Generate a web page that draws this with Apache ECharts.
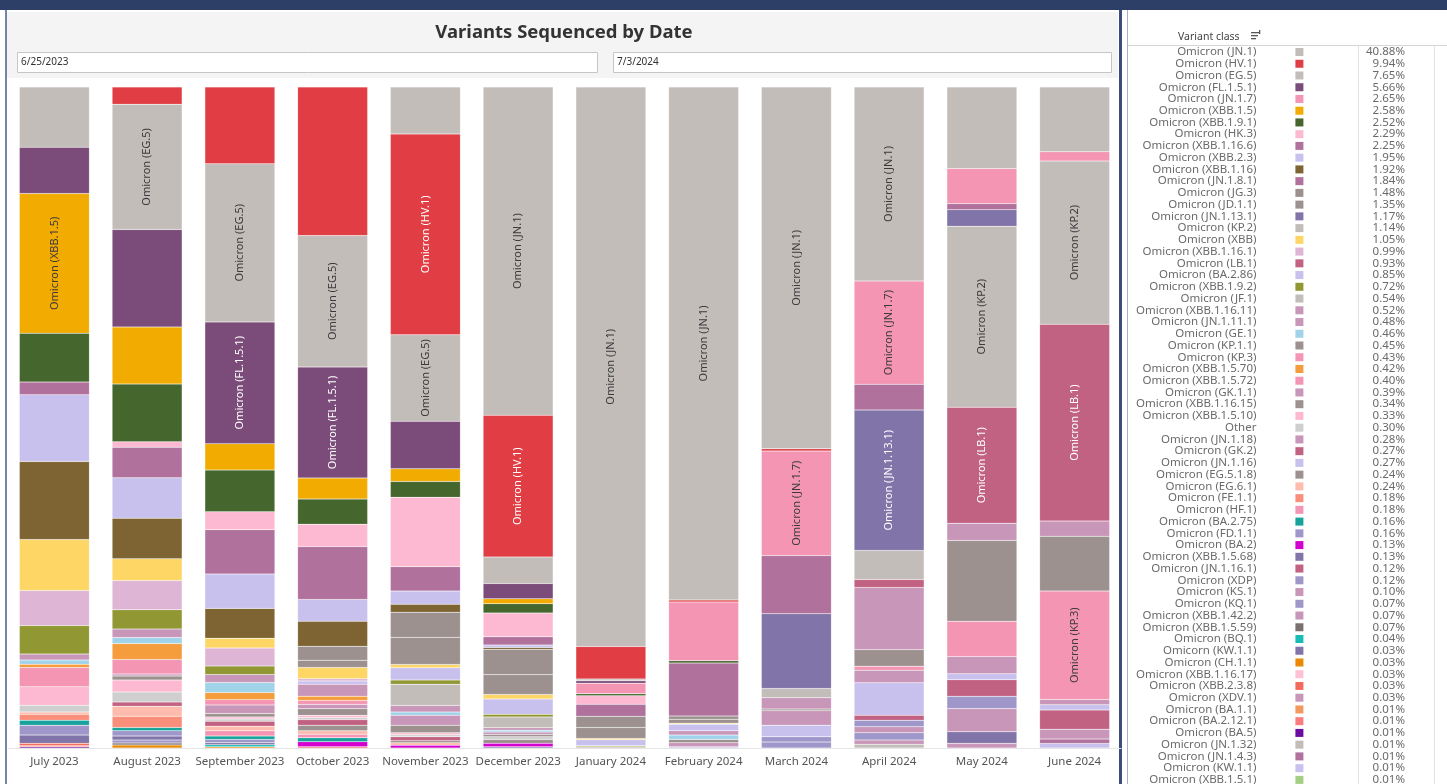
<!DOCTYPE html>
<html lang="en">
  <head>
    <meta charset="UTF-8" />
    <meta name="viewport" content="width=device-width, initial-scale=1.0" />
    <title>Variants Sequenced by Date</title>
    <script src="https://cdn.jsdelivr.net/npm/echarts@6/dist/echarts.min.js"></script>
    <style>
      html, body { margin: 0; padding: 0; background: #fff; }
      #main { width: 1447px; height: 784px; }
    </style>
  </head>
  <body>
    <div id="main"></div>
    <script>
      var FONT = "Noto Sans";

      var months = ["July 2023", "August 2023", "September 2023", "October 2023", "November 2023", "December 2023",
        "January 2024", "February 2024", "March 2024", "April 2024", "May 2024", "June 2024"];

      // legend order = stack order (top to bottom), share of all sequences
      var variants = ["Omicron (JN.1)", "Omicron (HV.1)", "Omicron (EG.5)", "Omicron (FL.1.5.1)", "Omicron (JN.1.7)",
        "Omicron (XBB.1.5)", "Omicron (XBB.1.9.1)", "Omicron (HK.3)", "Omicron (XBB.1.16.6)", "Omicron (XBB.2.3)",
        "Omicron (XBB.1.16)", "Omicron (JN.1.8.1)", "Omicron (JG.3)", "Omicron (JD.1.1)", "Omicron (JN.1.13.1)",
        "Omicron (KP.2)", "Omicron (XBB)", "Omicron (XBB.1.16.1)", "Omicron (LB.1)", "Omicron (BA.2.86)",
        "Omicron (XBB.1.9.2)", "Omicron (JF.1)", "Omicron (XBB.1.16.11)", "Omicron (JN.1.11.1)", "Omicron (GE.1)",
        "Omicron (KP.1.1)", "Omicron (KP.3)", "Omicron (XBB.1.5.70)", "Omicron (XBB.1.5.72)", "Omicron (GK.1.1)",
        "Omicron (XBB.1.16.15)", "Omicron (XBB.1.5.10)", "Other", "Omicron (JN.1.18)", "Omicron (GK.2)",
        "Omicron (JN.1.16)", "Omicron (EG.5.1.8)", "Omicron (EG.6.1)", "Omicron (FE.1.1)", "Omicron (HF.1)",
        "Omicron (BA.2.75)", "Omicron (FD.1.1)", "Omicron (BA.2)", "Omicron (XBB.1.5.68)", "Omicron (JN.1.16.1)",
        "Omicron (XDP)", "Omicron (KS.1)", "Omicron (KQ.1)", "Omicron (XBB.1.42.2)", "Omicron (XBB.1.5.59)",
        "Omicron (BQ.1)", "Omicorn (KW.1.1)", "Omicron (CH.1.1)", "Omicron (XBB.1.16.17)", "Omicron (XBB.2.3.8)",
        "Omicron (XDV.1)", "Omicron (BA.1.1)", "Omicron (BA.2.12.1)", "Omicron (BA.5)", "Omicron (JN.1.32)",
        "Omicron (JN.1.4.3)", "Omicron (KW.1.1)", "Omicron (XBB.1.5.1)"];

      var shares = [40.88, 9.94, 7.65, 5.66, 2.65, 2.58, 2.52, 2.29, 2.25, 1.95,
        1.92, 1.84, 1.48, 1.35, 1.17, 1.14, 1.05, 0.99, 0.93, 0.85,
        0.72, 0.54, 0.52, 0.48, 0.46, 0.45, 0.43, 0.42, 0.40, 0.39,
        0.34, 0.33, 0.30, 0.28, 0.27, 0.27, 0.24, 0.24, 0.18, 0.18,
        0.16, 0.16, 0.13, 0.13, 0.12, 0.12, 0.10, 0.07, 0.07, 0.07,
        0.04, 0.03, 0.03, 0.03, 0.03, 0.03, 0.01, 0.01, 0.01, 0.01,
        0.01, 0.01, 0.01];

      var palette = ["#c3bdba", "#e03e44", "#c3bdba", "#7b4c79", "#f395b3",
        "#f2ab00", "#45672e", "#fdb9d1", "#b0719d", "#c8c1ee",
        "#7e6433", "#b0719d", "#9c918e", "#9c918e", "#8174a8",
        "#c3bdba", "#fdd666", "#deb5d4", "#c26282", "#c8c1ee",
        "#919733", "#c3bdba", "#c896b9", "#c896b9", "#a0d3ea",
        "#9c918e", "#f395b3", "#f59d3d", "#f395b3", "#c896b9",
        "#9c918e", "#fdb9d1", "#cfcfcf", "#c896b9", "#c26282",
        "#c8c1ee", "#9c918e", "#fdbcae", "#f98e7a", "#f395b3",
        "#17a39b", "#9f96c9", "#d400cf", "#8174a8", "#c26282",
        "#9f96c9", "#c896b9", "#9f96c9", "#c896b9", "#7b706e",
        "#17bdb5", "#8174a8", "#e98a00", "#fdc1d6", "#f46b5c",
        "#c896b9", "#f2995e", "#fb7c7c", "#6b0ca0", "#c3bdba",
        "#b0719d", "#c8c1ee", "#a3cf82"];

      // percent of each month's sequences
      var jul2023 = [["Omicron (EG.5)", 9.1], ["Omicron (FL.1.5.1)", 7.0], ["Omicron (XBB.1.5)", 21.1],
        ["Omicron (XBB.1.9.1)", 7.4], ["Omicron (XBB.1.16.6)", 1.9], ["Omicron (XBB.2.3)", 10.1],
        ["Omicron (XBB.1.16)", 11.8], ["Omicron (XBB)", 7.7], ["Omicron (XBB.1.16.1)", 5.3],
        ["Omicron (XBB.1.9.2)", 4.3], ["Omicron (XBB.1.16.11)", 0.9], ["Omicron (GE.1)", 0.65],
        ["Omicron (XBB.1.5.70)", 0.5], ["Omicron (XBB.1.5.72)", 2.9], ["Omicron (XBB.1.5.10)", 2.8],
        ["Other", 1.0], ["Omicron (EG.6.1)", 0.35], ["Omicron (FE.1.1)", 0.9], ["Omicron (BA.2.75)", 0.75],
        ["Omicron (FD.1.1)", 1.5], ["Omicron (XBB.1.5.68)", 1.25], ["Omicron (XBB.2.3.8)", 0.35],
        ["Omicron (BA.2.12.1)", 0.15], ["Omicron (BA.5)", 0.2]];

      var aug2023 = [["Omicron (HV.1)", 2.6], ["Omicron (EG.5)", 18.9], ["Omicron (FL.1.5.1)", 14.7],
        ["Omicron (XBB.1.5)", 8.6], ["Omicron (XBB.1.9.1)", 8.7], ["Omicron (HK.3)", 0.85],
        ["Omicron (XBB.1.16.6)", 4.6], ["Omicron (XBB.2.3)", 6.1], ["Omicron (XBB.1.16)", 6.1],
        ["Omicron (XBB)", 3.3], ["Omicron (XBB.1.16.1)", 4.4], ["Omicron (XBB.1.9.2)", 2.9],
        ["Omicron (XBB.1.16.11)", 1.3], ["Omicron (GE.1)", 0.9], ["Omicron (XBB.1.5.70)", 2.4],
        ["Omicron (XBB.1.5.72)", 2.2], ["Omicron (GK.1.1)", 0.3], ["Omicron (XBB.1.16.15)", 0.6],
        ["Omicron (XBB.1.5.10)", 1.8], ["Other", 1.5], ["Omicron (GK.2)", 0.65], ["Omicron (EG.6.1)", 1.5],
        ["Omicron (FE.1.1)", 1.7], ["Omicron (BA.2.75)", 0.5], ["Omicron (FD.1.1)", 0.8],
        ["Omicron (XBB.1.5.68)", 0.6], ["Omicron (XDP)", 0.45], ["Omicron (XBB.1.5.59)", 0.3],
        ["Omicron (CH.1.1)", 0.45]];

      var sep2023 = [["Omicron (HV.1)", 11.6], ["Omicron (EG.5)", 23.9], ["Omicron (FL.1.5.1)", 18.4],
        ["Omicron (XBB.1.5)", 4.0], ["Omicron (XBB.1.9.1)", 6.3], ["Omicron (HK.3)", 2.7],
        ["Omicron (XBB.1.16.6)", 6.7], ["Omicron (XBB.2.3)", 5.2], ["Omicron (XBB.1.16)", 4.5],
        ["Omicron (XBB)", 1.5], ["Omicron (XBB.1.16.1)", 2.7], ["Omicron (XBB.1.9.2)", 1.3],
        ["Omicron (XBB.1.16.11)", 1.2], ["Omicron (GE.1)", 1.5], ["Omicron (XBB.1.5.70)", 1.1],
        ["Omicron (XBB.1.5.72)", 0.8], ["Omicron (GK.1.1)", 1.3], ["Omicron (XBB.1.16.15)", 0.5],
        ["Omicron (XBB.1.5.10)", 0.3], ["Other", 0.35], ["Omicron (GK.2)", 0.75], ["Omicron (EG.6.1)", 0.7],
        ["Omicron (HF.1)", 0.8], ["Omicron (BA.2.75)", 0.5], ["Omicron (FD.1.1)", 0.5],
        ["Omicron (XBB.1.5.68)", 0.3], ["Omicron (BQ.1)", 0.3], ["Omicron (CH.1.1)", 0.2]];

      var oct2023 = [["Omicron (HV.1)", 22.5], ["Omicron (EG.5)", 19.9], ["Omicron (FL.1.5.1)", 16.8],
        ["Omicron (XBB.1.5)", 3.2], ["Omicron (XBB.1.9.1)", 3.8], ["Omicron (HK.3)", 3.4],
        ["Omicron (XBB.1.16.6)", 8.0], ["Omicron (XBB.2.3)", 3.3], ["Omicron (XBB.1.16)", 3.8],
        ["Omicron (JG.3)", 2.1], ["Omicron (JD.1.1)", 1.1], ["Omicron (XBB)", 1.7],
        ["Omicron (XBB.1.16.1)", 0.35], ["Omicron (BA.2.86)", 0.5], ["Omicron (XBB.1.16.11)", 1.8],
        ["Omicron (XBB.1.5.70)", 0.65], ["Omicron (XBB.1.5.72)", 0.6], ["Omicron (GK.1.1)", 0.65],
        ["Omicron (XBB.1.16.15)", 1.0], ["Omicron (XBB.1.5.10)", 0.35], ["Other", 0.3],
        ["Omicron (GK.2)", 0.85], ["Omicron (EG.5.1.8)", 0.85], ["Omicron (EG.6.1)", 0.5],
        ["Omicron (HF.1)", 0.55], ["Omicron (BA.2.75)", 0.6], ["Omicron (BA.2)", 0.75],
        ["Omicron (XBB.2.3.8)", 0.2]];

      var nov2023 = [["Omicron (JN.1)", 7.1], ["Omicron (HV.1)", 30.4], ["Omicron (EG.5)", 13.1],
        ["Omicron (FL.1.5.1)", 7.2], ["Omicron (XBB.1.5)", 1.9], ["Omicron (XBB.1.9.1)", 2.4],
        ["Omicron (HK.3)", 10.5], ["Omicron (XBB.1.16.6)", 3.7], ["Omicron (XBB.2.3)", 2.0],
        ["Omicron (XBB.1.16)", 1.2], ["Omicron (JG.3)", 3.8], ["Omicron (JD.1.1)", 4.1],
        ["Omicron (XBB)", 0.5], ["Omicron (BA.2.86)", 1.85], ["Omicron (XBB.1.9.2)", 0.65],
        ["Omicron (JF.1)", 3.2], ["Omicron (XBB.1.16.11)", 1.0], ["Omicron (GE.1)", 0.5],
        ["Omicron (GK.1.1)", 1.5], ["Omicron (XBB.1.16.15)", 1.15], ["Omicron (XBB.1.5.10)", 0.3],
        ["Other", 0.3], ["Omicron (GK.2)", 0.6], ["Omicron (EG.5.1.8)", 0.3], ["Omicron (EG.6.1)", 0.4],
        ["Omicron (BA.2)", 0.4]];

      var dec2023 = [["Omicron (JN.1)", 49.6], ["Omicron (HV.1)", 21.4], ["Omicron (EG.5)", 4.0],
        ["Omicron (FL.1.5.1)", 2.3], ["Omicron (XBB.1.5)", 0.75], ["Omicron (XBB.1.9.1)", 1.4],
        ["Omicron (HK.3)", 3.6], ["Omicron (XBB.1.16.6)", 1.25], ["Omicron (XBB.2.3)", 0.35],
        ["Omicron (XBB.1.16)", 0.3], ["Omicron (JG.3)", 3.8], ["Omicron (JD.1.1)", 3.0],
        ["Omicron (XBB)", 0.7], ["Omicron (BA.2.86)", 2.3], ["Omicron (XBB.1.9.2)", 0.4],
        ["Omicron (JF.1)", 1.65], ["Omicron (XBB.1.16.11)", 0.35], ["Omicron (GE.1)", 0.3],
        ["Omicron (GK.1.1)", 0.35], ["Omicron (XBB.1.16.15)", 0.35], ["Other", 0.4],
        ["Omicron (EG.5.1.8)", 0.6], ["Omicron (BA.2)", 0.5], ["Omicron (XBB.1.5.68)", 0.2]];

      var jan2024 = [["Omicron (JN.1)", 84.6], ["Omicron (HV.1)", 4.9], ["Omicron (EG.5)", 0.3],
        ["Omicron (FL.1.5.1)", 0.35], ["Omicron (JN.1.7)", 1.6], ["Omicron (XBB.1.9.1)", 0.3],
        ["Omicron (HK.3)", 1.3], ["Omicron (JN.1.8.1)", 1.8], ["Omicron (JG.3)", 1.7],
        ["Omicron (JD.1.1)", 1.65], ["Omicron (XBB)", 0.2], ["Omicron (BA.2.86)", 0.9],
        ["Omicron (XBB.1.9.2)", 0.15], ["Omicron (JF.1)", 0.2]];

      var feb2024 = [["Omicron (JN.1)", 77.6], ["Omicron (HV.1)", 0.3], ["Omicron (JN.1.7)", 8.9],
        ["Omicron (XBB.1.9.1)", 0.35], ["Omicron (JN.1.8.1)", 8.0], ["Omicron (JG.3)", 0.5],
        ["Omicron (JD.1.1)", 0.6], ["Omicron (XBB)", 0.15], ["Omicron (BA.2.86)", 1.0],
        ["Omicron (JN.1.11.1)", 0.65], ["Omicron (GE.1)", 0.65], ["Omicron (KP.1.1)", 0.5],
        ["Omicron (JN.1.18)", 0.6], ["Omicron (JN.1.16)", 0.2]];

      var mar2024 = [["Omicron (JN.1)", 54.7], ["Omicron (HV.1)", 0.35], ["Omicron (JN.1.7)", 15.8],
        ["Omicron (JN.1.8.1)", 8.8], ["Omicron (JN.1.13.1)", 11.3], ["Omicron (KP.2)", 1.4],
        ["Omicron (JN.1.11.1)", 1.7], ["Omicron (KP.1.1)", 0.25], ["Omicron (JN.1.18)", 2.2],
        ["Omicron (JN.1.16)", 1.75], ["Omicron (XDP)", 0.8], ["Omicron (KQ.1)", 0.9]];

      var apr2024 = [["Omicron (JN.1)", 29.3], ["Omicron (JN.1.7)", 15.6], ["Omicron (JN.1.8.1)", 3.9],
        ["Omicron (JN.1.13.1)", 21.2], ["Omicron (KP.2)", 4.4], ["Omicron (LB.1)", 1.2],
        ["Omicron (JN.1.11.1)", 9.4], ["Omicron (KP.1.1)", 2.5], ["Omicron (KP.3)", 0.6],
        ["Omicron (JN.1.18)", 1.9], ["Omicron (JN.1.16)", 4.9], ["Omicron (JN.1.16.1)", 0.75],
        ["Omicron (XDP)", 1.0], ["Omicron (KS.1)", 0.9], ["Omicron (KQ.1)", 1.1],
        ["Omicron (XBB.1.42.2)", 0.65], ["Omicron (JN.1.32)", 0.55]];

      var may2024 = [["Omicron (JN.1)", 12.3], ["Omicron (JN.1.7)", 5.3], ["Omicron (JN.1.8.1)", 0.9],
        ["Omicron (JN.1.13.1)", 2.5], ["Omicron (KP.2)", 27.3], ["Omicron (LB.1)", 17.5],
        ["Omicron (JN.1.11.1)", 2.6], ["Omicron (KP.1.1)", 12.2], ["Omicron (KP.3)", 5.3],
        ["Omicron (JN.1.18)", 2.6], ["Omicron (JN.1.16)", 0.9], ["Omicron (JN.1.16.1)", 2.5],
        ["Omicron (XDP)", 1.85], ["Omicron (KS.1)", 3.5], ["Omicorn (KW.1.1)", 1.75],
        ["Omicron (XDV.1)", 0.7]];

      var jun2024 = [["Omicron (JN.1)", 9.8], ["Omicron (JN.1.7)", 1.4], ["Omicron (KP.2)", 24.7],
        ["Omicron (LB.1)", 29.8], ["Omicron (JN.1.11.1)", 2.3], ["Omicron (KP.1.1)", 8.3],
        ["Omicron (KP.3)", 16.4], ["Omicron (JN.1.18)", 0.8], ["Omicron (JN.1.16)", 0.8],
        ["Omicron (JN.1.16.1)", 2.9], ["Omicron (KS.1)", 1.5], ["Omicron (JN.1.4.3)", 0.65],
        ["Omicron (KW.1.1)", 0.7]];

      var monthData = [jul2023, aug2023, sep2023, oct2023, nov2023, dec2023,
        jan2024, feb2024, mar2024, apr2024, may2024, jun2024];

      // segments that carry a name label
      var labeled = [["July 2023", "Omicron (XBB.1.5)"], ["August 2023", "Omicron (EG.5)"],
        ["September 2023", "Omicron (EG.5)"], ["September 2023", "Omicron (FL.1.5.1)"],
        ["October 2023", "Omicron (EG.5)"], ["October 2023", "Omicron (FL.1.5.1)"],
        ["November 2023", "Omicron (HV.1)"], ["November 2023", "Omicron (EG.5)"],
        ["December 2023", "Omicron (JN.1)"], ["December 2023", "Omicron (HV.1)"],
        ["January 2024", "Omicron (JN.1)"], ["February 2024", "Omicron (JN.1)"],
        ["March 2024", "Omicron (JN.1)"], ["March 2024", "Omicron (JN.1.7)"],
        ["April 2024", "Omicron (JN.1)"], ["April 2024", "Omicron (JN.1.7)"], ["April 2024", "Omicron (JN.1.13.1)"],
        ["May 2024", "Omicron (KP.2)"], ["May 2024", "Omicron (LB.1)"],
        ["June 2024", "Omicron (KP.2)"], ["June 2024", "Omicron (LB.1)"], ["June 2024", "Omicron (KP.3)"]];

      var whiteText = ["Omicron (HV.1)", "Omicron (FL.1.5.1)", "Omicron (LB.1)", "Omicron (JN.1.13.1)"];

      var startDate = "6/25/2023";
      var endDate = "7/3/2024";

      function lookup(rows, name) {
        for (var i = 0; i < rows.length; i++) {
          if (rows[i][0] === name) return rows[i][1];
        }
        return null;
      }

      function isLabeled(month, name) {
        return labeled.some(function (p) { return p[0] === month && p[1] === name; });
      }

      var totals = monthData.map(function (rows) {
        return rows.reduce(function (s, r) { return s + r[1]; }, 0);
      });

      // echarts stacks from the bottom, so add the legend order reversed
      var series = variants.slice().reverse().map(function (name) {
        var idx = variants.indexOf(name);
        return {
          name: name,
          type: "bar",
          stack: "share",
          barWidth: 70,
          itemStyle: { color: palette[idx], borderColor: "rgba(255,255,255,0.3)", borderWidth: 0.5 },
          emphasis: { disabled: true },
          label: {
            show: false,
            position: "inside",
            rotate: 90,
            fontSize: 11,
            fontFamily: FONT,
            color: whiteText.indexOf(name) >= 0 ? "#ffffff" : "#3a3a3a",
            formatter: "{a}"
          },
          data: months.map(function (m, i) {
            var v = lookup(monthData[i], name);
            if (v == null) return "-";
            var pct = v / totals[i] * 100;
            return isLabeled(m, name) ? { value: pct, label: { show: true } } : pct;
          })
        };
      });

      // legend rows: text box is 12px tall at this size, the reference pitch is 11.74px
      var ROW = 11.5;
      var GAP = 11.74 - 12;

      var chart = echarts.init(document.getElementById("main"));

      var option = {
        animation: false,
        textStyle: { fontFamily: FONT },
        tooltip: {
          trigger: "item",
          formatter: function (p) { return p.name + "<br/>" + p.seriesName + ": " + p.value.toFixed(2) + "%"; }
        },
        grid: { left: 8, right: 326, top: 87, bottom: 36 },
        xAxis: {
          type: "category",
          data: months,
          axisLine: { lineStyle: { color: "#e6e6e6" } },
          axisTick: { show: false },
          axisLabel: { interval: 0, color: "#555", fontSize: 11.5, margin: 8, fontFamily: FONT }
        },
        yAxis: { type: "value", min: 0, max: 100, show: false },
        legend: [
          {
            orient: "vertical",
            left: 1136,
            top: 46,
            height: 800,
            padding: 0,
            itemGap: GAP,
            align: "right",
            icon: "rect",
            itemWidth: 8,
            itemHeight: 8,
            itemStyle: { borderWidth: 0 },
            data: variants,
            formatter: function (n) { return "{n|" + n + "}{g|}"; },
            textStyle: {
              fontSize: ROW,
              rich: {
                n: { width: 140, align: "right", fontSize: ROW, color: "#6a6a6a", fontFamily: FONT },
                g: { width: 34, fontSize: ROW, fontFamily: FONT }
              }
            }
          },
          {
            orient: "vertical",
            left: 1366,
            top: 46,
            height: 800,
            padding: 0,
            itemGap: GAP,
            align: "right",
            icon: "rect",
            itemWidth: 0,
            itemHeight: 8,
            selectedMode: false,
            itemStyle: { opacity: 0, borderWidth: 0 },
            data: variants,
            formatter: function (n) { return "{p|" + shares[variants.indexOf(n)].toFixed(2) + "%}"; },
            textStyle: {
              fontSize: ROW,
              rich: {
                p: { width: 50, align: "right", fontSize: ROW, color: "#6a6a6a", fontFamily: FONT }
              }
            }
          }
        ],
        graphic: [
          { type: "rect", shape: { x: 0, y: 0, width: 1447, height: 10 }, style: { fill: "#2d3e67" }, silent: true },
          { type: "rect", shape: { x: 5, y: 10, width: 2, height: 774 }, style: { fill: "#7584a8" }, silent: true },
          { type: "rect", shape: { x: 7, y: 12, width: 1111, height: 66 }, style: { fill: "#f4f4f4" }, silent: true },
          {
            type: "text", x: 564, y: 32.5, silent: true,
            style: { text: "Variants Sequenced by Date", fill: "#333", font: "bold 18.5px 'Noto Sans'", align: "center", verticalAlign: "middle" }
          },
          { type: "rect", shape: { x: 17.5, y: 52.5, width: 580, height: 20 }, style: { fill: "#fff", stroke: "#c6c6c6", lineWidth: 1 }, silent: true },
          { type: "text", x: 21, y: 62.5, silent: true, style: { text: startDate, fill: "#333", font: "10px 'Noto Sans'", verticalAlign: "middle" } },
          { type: "rect", shape: { x: 613.5, y: 52.5, width: 498, height: 20 }, style: { fill: "#fff", stroke: "#c6c6c6", lineWidth: 1 }, silent: true },
          { type: "text", x: 617, y: 62.5, silent: true, style: { text: endDate, fill: "#333", font: "10px 'Noto Sans'", verticalAlign: "middle" } },
          { type: "rect", shape: { x: 1119, y: 10, width: 3, height: 774 }, style: { fill: "#3b4d78" }, silent: true },
          { type: "rect", shape: { x: 1127, y: 10, width: 1, height: 774 }, style: { fill: "#a7b1c6" }, silent: true },
          { type: "text", x: 1178, y: 37, silent: true, style: { text: "Variant class", fill: "#444", font: "10.5px 'Noto Sans'", verticalAlign: "middle" } },
          { type: "rect", shape: { x: 1251, y: 32, width: 9, height: 1.3 }, style: { fill: "#555" }, silent: true },
          { type: "rect", shape: { x: 1251, y: 35, width: 7, height: 1.3 }, style: { fill: "#555" }, silent: true },
          { type: "rect", shape: { x: 1251, y: 38, width: 5, height: 1.3 }, style: { fill: "#555" }, silent: true },
          { type: "rect", shape: { x: 1259, y: 30, width: 1.3, height: 4 }, style: { fill: "#555" }, silent: true },
          { type: "rect", shape: { x: 1128, y: 45, width: 319, height: 1 }, style: { fill: "#d6d6d6" }, silent: true },
          { type: "rect", shape: { x: 1358, y: 46, width: 1, height: 738 }, style: { fill: "#e2e2e2" }, silent: true },
          { type: "rect", shape: { x: 1434, y: 46, width: 1, height: 738 }, style: { fill: "#e2e2e2" }, silent: true }
        ],
        series: series
      };

      chart.setOption(option);
    </script>
  </body>
</html>
